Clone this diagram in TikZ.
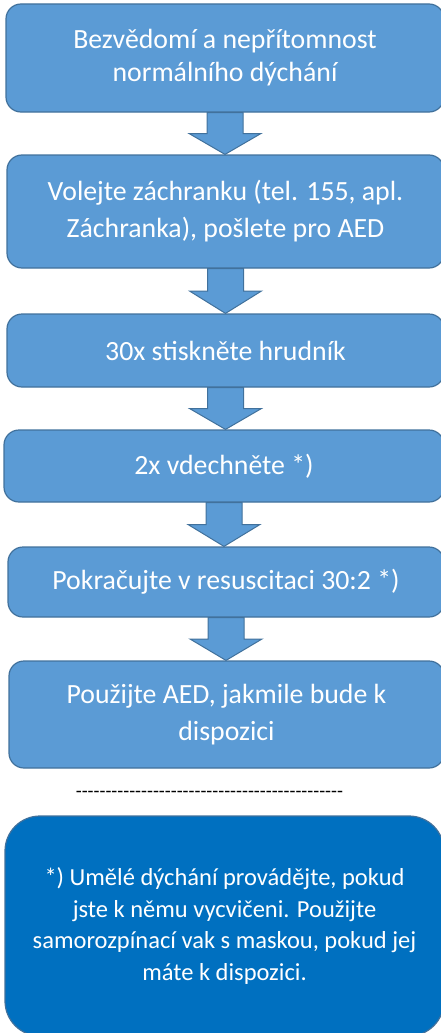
\documentclass[tikz,border=0pt]{standalone}
\usepackage{fontspec}
\setmainfont{Carlito}
\usetikzlibrary{calc}

\definecolor{stepblue}{HTML}{5B9BD5}
\definecolor{stepline}{HTML}{41719C}
\definecolor{noteblue}{HTML}{0070C0}

\begin{document}
\begin{tikzpicture}[x=1pt,y=-1pt,
   box/.style={draw=stepline, fill=stepblue, line width=1.2pt, rounded corners=15pt,
      text=white, align=center, inner sep=0pt,
      font=\fontsize{27.8}{33}\selectfont},
   arr/.style={draw=stepline, fill=stepblue, line width=1pt}]
   \useasboundingbox (0,0) rectangle (441,1033);

   \node[box, minimum width=438, minimum height=108] (b1) at (225,58)
      {Bezvědomí a nepřítomnost\\normálního dýchání};
   \node[box, minimum width=437, minimum height=113] (b2) at (225.5,211.5)
      {Volejte záchranku (tel. 155, apl.\\[4pt]Záchranka), pošlete pro AED};
   \node[box, minimum width=437, minimum height=73] (b3) at (225.5,350.5)
      {30x stiskněte hrudník};
   \node[box, minimum width=440, minimum height=72] (b4) at (224,466)
      {2x vdechněte *)};
   \node[box, minimum width=436, minimum height=70] (b5) at (226,582)
      {Pokračujte v resuscitaci 30:2 *)};
   \node[box, minimum width=435, minimum height=107] (b6) at (226.5,714.5)
      {Použijte AED, jakmile bude k\\[4pt]dispozici};

   \foreach \a/\b in {b1/b2,b2/b3,b3/b4,b4/b5,b5/b6}
   \draw[arr] let \p1=(\a.south), \p2=(\b.north), \p3=($(\a.south)!.5!(\b.north)$) in
      (\x1-18pt,\y1) -- (\x1-18pt,\y3) -- (\x1-36pt,\y3) -- (\x1,\y2)
      -- (\x1+36pt,\y3) -- (\x1+18pt,\y3) -- (\x1+18pt,\y1) -- cycle;

   \node[font=\fontsize{19.4}{20}\selectfont\addfontfeatures{Ligatures=TeXOff},
      inner sep=0pt] (sep) at (209.5,794)
      {---------------------------------------------};

   \node[box, fill=noteblue, rounded corners=35pt, minimum width=439, minimum height=220,
      font=\fontsize{24.5}{31.7}\selectfont]
      (note) at (224.5,926)
      {*) Umělé dýchání provádějte, pokud\\jste k němu vycvičeni. Použijte\\
       samorozpínací vak s maskou, pokud jej\\máte k dispozici.};
\end{tikzpicture}
\end{document}
